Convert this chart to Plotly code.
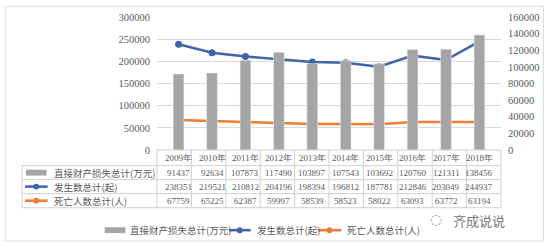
import plotly.graph_objects as go

years = ["2009年", "2010年", "2011年", "2012年", "2013年", "2014年", "2015年", "2016年", "2017年", "2018年"]
series_names = ["直接财产损失总计(万元)", "发生数总计(起)", "死亡人数总计(人)"]
loss = [91437, 92634, 107873, 117490, 103897, 107543, 103692, 120760, 121311, 138456]
fires = [238351, 219521, 210812, 204196, 198394, 196812, 187781, 212846, 203049, 244937]
deaths = [67759, 65225, 62387, 59997, 58539, 58523, 58022, 63093, 63772, 63194]
left_ticks = [0, 50000, 100000, 150000, 200000, 250000, 300000]
right_ticks = [0, 20000, 40000, 60000, 80000, 100000, 120000, 140000, 160000]

GRAY = "#A5A5A5"
BLUE = "#3F64A9"
ORANGE = "#ED7D31"
TXT = "#595959"
LINE = "#D9D9D9"
NUMFONT = "Liberation Serif"
CJKFONT = "Noto Sans CJK SC"

L, R, T, B = 157, 46, 14, 98
W, H = 552, 248
PW, PH = W - L - R, H - T - B


def px(x):
    return (x - L) / PW


def py(y):
    return (T + PH - y) / PH


fig = go.Figure()
fig.add_trace(go.Bar(x=years, y=loss, name=series_names[0], marker_color=GRAY,
                     width=0.32, yaxis="y2", showlegend=False))
fig.add_trace(go.Scatter(x=years, y=fires, name=series_names[1], mode="lines+markers",
                         line=dict(color=BLUE, width=2.5), marker=dict(size=7, color=BLUE),
                         showlegend=False))
fig.add_trace(go.Scatter(x=years, y=deaths, name=series_names[2], mode="lines+markers",
                         line=dict(color=ORANGE, width=2.5), marker=dict(size=7, color=ORANGE),
                         showlegend=False))

shapes = []
annotations = []

# outer frame
shapes.append(dict(type="rect", xref="paper", yref="paper", x0=px(3), x1=px(549), y0=py(3), y1=py(243),
                   line=dict(color=LINE, width=1), fillcolor="rgba(0,0,0,0)", layer="below"))

# table geometry
x_lab = 20
x_tab0 = L
x_tab1 = L + PW
y_head0, y_head1 = 150, 166
row_edges = [166, 180.3, 194.6, 209]
tab_line = dict(color="#D0D0D0", width=1)

shapes.append(dict(type="line", xref="paper", yref="paper", x0=px(x_tab0), x1=px(x_tab1),
                   y0=py(y_head0), y1=py(y_head0), line=tab_line))
for ye in row_edges:
    shapes.append(dict(type="line", xref="paper", yref="paper", x0=px(x_lab), x1=px(x_tab1),
                       y0=py(ye), y1=py(ye), line=tab_line))
shapes.append(dict(type="line", xref="paper", yref="paper", x0=px(x_lab), x1=px(x_lab),
                   y0=py(row_edges[0]), y1=py(row_edges[-1]), line=tab_line))
n = len(years)
for i in range(n + 1):
    xx = x_tab0 + PW * i / n
    shapes.append(dict(type="line", xref="paper", yref="paper", x0=px(xx), x1=px(xx),
                       y0=py(y_head0), y1=py(row_edges[-1]), line=tab_line))

# header years
for yr in years:
    annotations.append(dict(x=yr, xref="x", y=py((y_head0 + y_head1) / 2), yref="paper",
                            text=yr, showarrow=False, font=dict(family=NUMFONT, size=9, color=TXT),
                            xanchor="center", yanchor="middle"))

# rows
row_data = [loss, fires, deaths]
colors = [GRAY, BLUE, ORANGE]
for r in range(3):
    yc = (row_edges[r] + row_edges[r + 1]) / 2
    for yr, v in zip(years, row_data[r]):
        annotations.append(dict(x=yr, xref="x", y=py(yc), yref="paper", text=str(v), showarrow=False,
                                font=dict(family=NUMFONT, size=9, color=TXT),
                                xanchor="center", yanchor="middle"))
    annotations.append(dict(x=px(50), xref="paper", y=py(yc), yref="paper", text=series_names[r],
                            showarrow=False, font=dict(family=CJKFONT, size=9.5, color=TXT),
                            xanchor="left", yanchor="middle"))
    if r == 0:
        shapes.append(dict(type="rect", xref="paper", yref="paper", x0=px(24), x1=px(45),
                           y0=py(yc - 3), y1=py(yc + 3), line=dict(width=0), fillcolor=GRAY))
    else:
        shapes.append(dict(type="line", xref="paper", yref="paper", x0=px(23), x1=px(46),
                           y0=py(yc), y1=py(yc), line=dict(color=colors[r], width=2.5)))
        shapes.append(dict(type="circle", xref="paper", yref="paper", x0=px(31.5), x1=px(37.5),
                           y0=py(yc - 3), y1=py(yc + 3), line=dict(width=0), fillcolor=colors[r]))

# bottom legend
ly = 232
leg = [(104, 125, 128), (230, 252, 256), (320, 344, 348)]
for r, (s0, s1, tx) in enumerate(leg):
    if r == 0:
        shapes.append(dict(type="rect", xref="paper", yref="paper", x0=px(s0), x1=px(s1),
                           y0=py(ly - 3), y1=py(ly + 3), line=dict(width=0), fillcolor=GRAY))
    else:
        cx = (s0 + s1) / 2
        shapes.append(dict(type="line", xref="paper", yref="paper", x0=px(s0), x1=px(s1),
                           y0=py(ly), y1=py(ly), line=dict(color=colors[r], width=2.5)))
        shapes.append(dict(type="circle", xref="paper", yref="paper", x0=px(cx - 3), x1=px(cx + 3),
                           y0=py(ly - 3), y1=py(ly + 3), line=dict(width=0), fillcolor=colors[r]))
    annotations.append(dict(x=px(tx), xref="paper", y=py(ly), yref="paper", text=series_names[r],
                            showarrow=False, font=dict(family=CJKFONT, size=9.5, color=TXT),
                            xanchor="left", yanchor="middle"))

# watermark
annotations.append(dict(x=px(455), xref="paper", y=py(222), yref="paper", text="齐成说说",
                        showarrow=False, font=dict(family=CJKFONT, size=13, color="#777777"),
                        xanchor="left", yanchor="middle"))
annotations.append(dict(x=px(440), xref="paper", y=py(221), yref="paper", text="◌",
                        showarrow=False, font=dict(family="DejaVu Sans", size=14, color="#9A9A9A"),
                        xanchor="center", yanchor="middle"))

fig.update_layout(
    width=W, height=H,
    margin=dict(l=L, r=R, t=T, b=B),
    paper_bgcolor="white", plot_bgcolor="white",
    bargap=0.7,
    xaxis=dict(type="category", showticklabels=False, showgrid=False, zeroline=False,
               showline=False, ticks=""),
    yaxis=dict(range=[0, 300000], tickvals=left_ticks, ticktext=[str(v) for v in left_ticks],
               showgrid=True, gridcolor=LINE, gridwidth=1, zeroline=False, showline=False,
               tickfont=dict(family=NUMFONT, size=10.5, color=TXT), ticks="", ticklabelstandoff=6),
    yaxis2=dict(range=[0, 160000], tickvals=right_ticks, ticktext=[str(v) for v in right_ticks],
                overlaying="y", side="right", showgrid=False, zeroline=False, showline=False,
                tickfont=dict(family=NUMFONT, size=10.5, color=TXT), ticks="", ticklabelstandoff=6),
    shapes=shapes,
    annotations=annotations,
    showlegend=False,
)

fig.write_html("out.html")
